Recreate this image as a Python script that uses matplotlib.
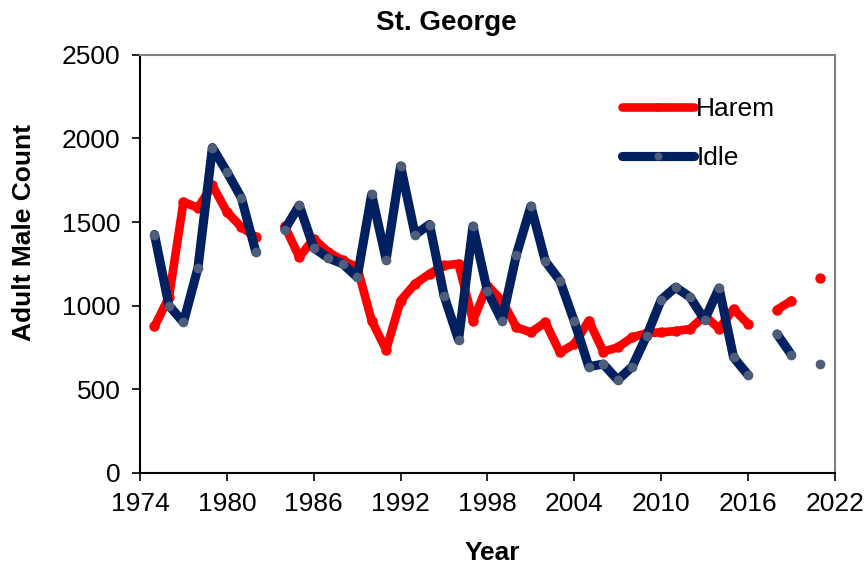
import numpy as np
import matplotlib
matplotlib.use("Agg")
import matplotlib.pyplot as plt

plt.rcParams['font.family'] = ['Liberation Sans', 'DejaVu Sans']

nan = np.nan
years = np.arange(1975, 2022)

harem = [875, 1050, 1620, 1585, 1720, 1560, 1470, 1410, nan,
         1475, 1290, 1400, 1320, 1270, 1230, 910, 735, 1030, 1130,
         1190, 1240, 1250, 910, 1120, 1030, 870, 840, 900, 720,
         770, 910, 725, 750, 810, 835, 840, 848, 860, 940,
         862, 980, 890, nan, 975, 1030, nan, 1165]

idle = [1425, 1000, 900, 1225, 1945, 1800, 1645, 1320, nan,
        1455, 1600, 1345, 1285, 1250, 1170, 1665, 1275, 1835, 1425,
        1485, 1060, 795, 1475, 1085, 910, 1305, 1595, 1265, 1150,
        905, 635, 650, 555, 635, 820, 1035, 1110, 1050, 915,
        1105, 690, 585, nan, 830, 705, nan, 650]

xticks = np.arange(1974, 2023, 6)
yticks = np.arange(0, 2501, 500)

fig = plt.figure(figsize=(8.67, 5.71), dpi=100)
ax = fig.add_axes([0.1615, 0.172, 0.8015, 0.732])

ax.plot(years, harem, color='#ff0000', lw=6.2, marker='o', ms=6.5,
        mfc='#ff0000', mec='#ff0000', solid_capstyle='round',
        solid_joinstyle='round', label='Harem')
ax.plot(years, idle, color='#002060', lw=6.6, marker='o', ms=6,
        mfc='#4d5d7a', mec='#4d5d7a', solid_capstyle='round',
        solid_joinstyle='round', label='Idle')

ax.set_xlim(1974, 2022)
ax.set_ylim(0, 2500)
ax.set_xticks(xticks)
ax.set_yticks(yticks)
ax.tick_params(direction='out', length=6, width=1.2, labelsize=19,
               colors='black', pad=8)

for s in ['left', 'bottom']:
    ax.spines[s].set_color('black')
    ax.spines[s].set_linewidth(1.5)
for s in ['top', 'right']:
    ax.spines[s].set_color('#808080')
    ax.spines[s].set_linewidth(1.5)

leg = ax.legend(loc='upper left', bbox_to_anchor=(0.66, 0.955), frameon=False,
                fontsize=19, handlelength=2.7, handletextpad=0.1,
                labelspacing=0.95, markerscale=0.8)

fig.text(0.515, 0.96, 'St. George', ha='center', va='center',
         fontsize=20, fontweight='bold')
fig.text(0.5675, 0.032, 'Year', ha='center', va='center',
         fontsize=19, fontweight='bold')
fig.text(0.028, 1 - 233 / 571, 'Adult Male Count', ha='center', va='center',
         rotation=90, fontsize=19, fontweight='bold')

fig.savefig('out.png', dpi=100)
